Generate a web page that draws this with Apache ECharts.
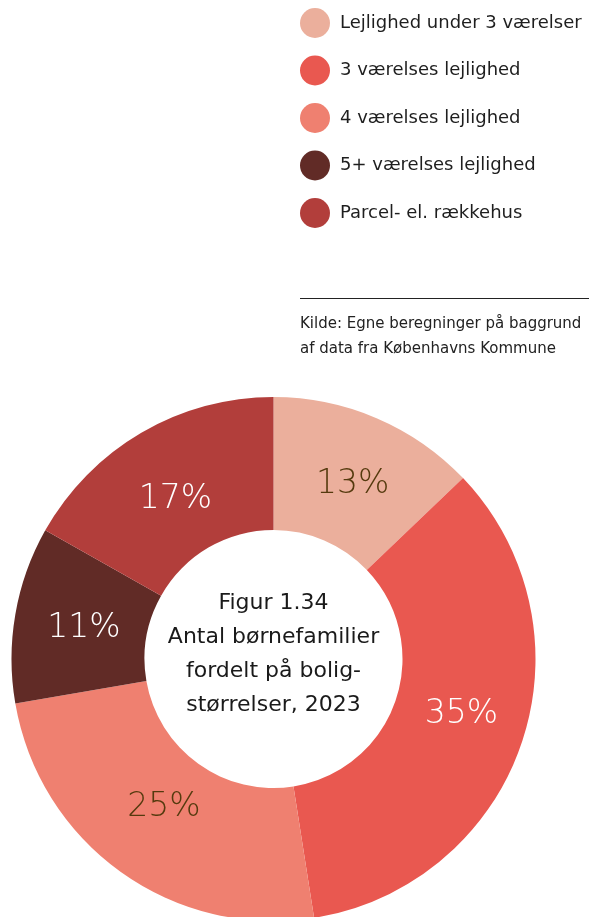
<!DOCTYPE html>
<html>
<head>
<meta charset="utf-8">
<script src="https://cdn.jsdelivr.net/npm/echarts@6/dist/echarts.min.js"></script>
<style>
  html, body { margin: 0; padding: 0; background: #fff; }
  #chart { width: 589px; height: 917px; }
</style>
</head>
<body>
<div id="chart"></div>
<script>
// Housing types for families with children, Copenhagen 2023 (share in %)
const categories = [
  'Lejlighed under 3 værelser',
  '3 værelses lejlighed',
  '4 værelses lejlighed',
  '5+ værelses lejlighed',
  'Parcel- el. rækkehus'
];
const shares = [13, 35, 25, 11, 17];
const colors = ['#ebaf9c', '#e95850', '#ef8070', '#612b26', '#b23e3b'];
const labelColors = ['#553a0e', '#ffffff', '#553a0e', '#ffffff', '#ffffff'];
// small nudges of the percentage labels inside their slices
const labelNudges = [[1, 8], [0, -8], [6, -13], [6, 3], [2, 12]];

const centerLines = ['Figur 1.34', 'Antal børnefamilier', 'fordelt på bolig-', 'størrelser, 2023'];
const sourceLines = ['Kilde: Egne beregninger på baggrund', 'af data fra Københavns Kommune'];

const FONT = '"DejaVu Sans", "Open Sans", sans-serif';

const chart = echarts.init(document.getElementById('chart'), null, { renderer: 'canvas' });

const data = categories.map((name, i) => ({
  name,
  value: shares[i],
  itemStyle: { color: colors[i] },
  label: { color: labelColors[i], offset: labelNudges[i] }
}));

chart.setOption({
  backgroundColor: '#ffffff',
  animation: false,
  legend: {
    orient: 'vertical',
    left: 300,
    top: 8,
    padding: 0,
    icon: 'circle',
    itemWidth: 30,
    itemHeight: 30,
    itemGap: 17.5,
    selectedMode: false,
    textStyle: {
      fontFamily: FONT,
      fontSize: 18,
      color: '#1e1e1e',
      padding: [0, 0, 0, 5]
    },
    data: categories
  },
  graphic: [
    {
      type: 'line',
      shape: { x1: 300, y1: 298.5, x2: 589, y2: 298.5 },
      style: { stroke: '#222', lineWidth: 1 }
    },
    {
      type: 'text',
      left: 300,
      top: 312,
      style: {
        text: sourceLines.join('\n'),
        font: '15px ' + FONT,
        lineHeight: 25,
        fill: '#222'
      }
    },
    {
      type: 'text',
      x: 273.5,
      y: 654,
      style: {
        text: centerLines.join('\n'),
        font: '22px ' + FONT,
        lineHeight: 34,
        fill: '#1a1a1a',
        align: 'center',
        verticalAlign: 'middle'
      },
      z: 10
    }
  ],
  series: [
    {
      type: 'pie',
      center: [273.5, 659],
      radius: [129, 262],
      startAngle: 90,
      clockwise: true,
      avoidLabelOverlap: false,
      silent: true,
      label: {
        show: true,
        position: 'inside',
        formatter: '{c}%',
        fontFamily: FONT,
        fontSize: 33,
        fontWeight: 200
      },
      labelLine: { show: false },
      itemStyle: { borderWidth: 0 },
      data
    }
  ]
});
</script>
</body>
</html>
